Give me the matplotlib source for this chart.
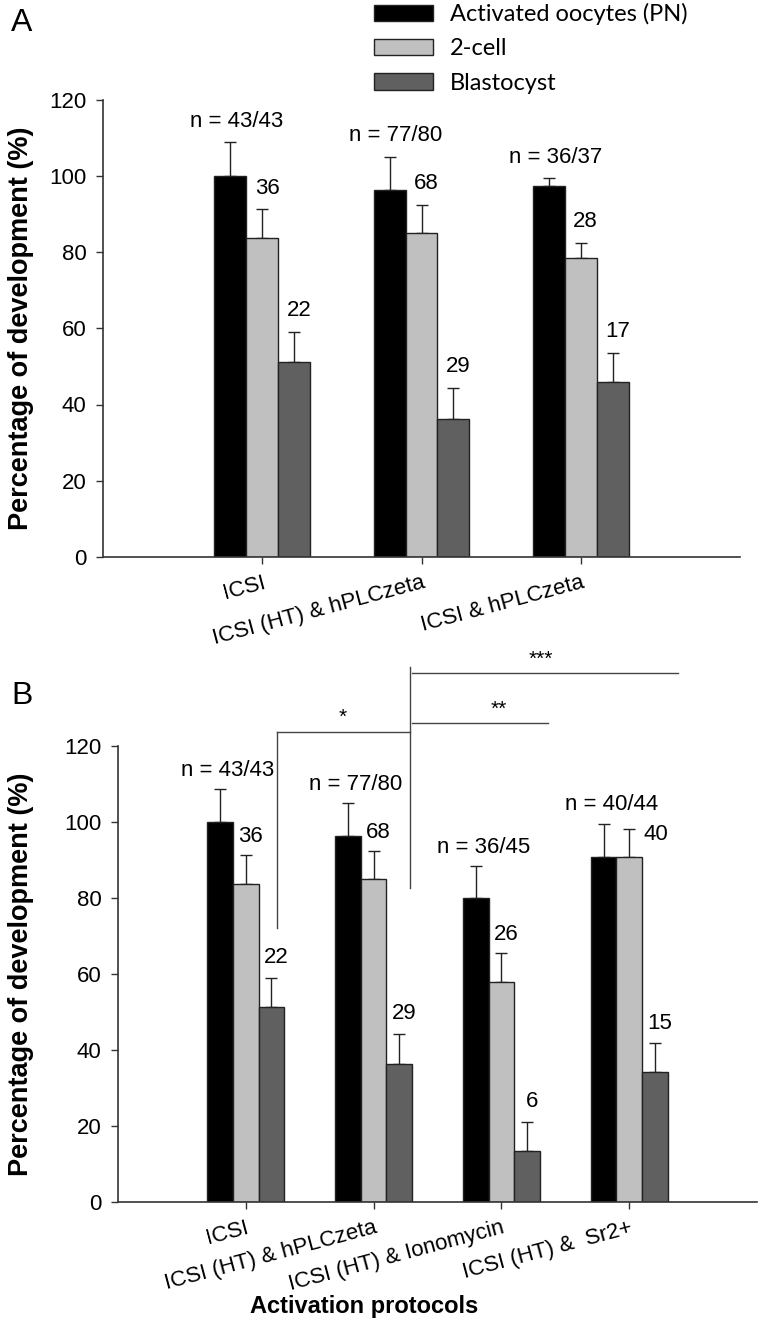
import numpy as np
import matplotlib
matplotlib.use("Agg")
import matplotlib.pyplot as plt
from matplotlib.patches import Patch

plt.rcParams['font.family'] = ['Liberation Sans', 'DejaVu Sans']

# ---- data ----
series_names = ["Activated oocytes (PN)", "2-cell", "Blastocyst"]
series_colors = ["#000000", "#c0c0c0", "#606060"]

# panel A
cats_a = ["ICSI", "ICSI (HT) & hPLCzeta", "ICSI & hPLCzeta"]
pn_a = [100.0, 96.3, 97.3]
two_cell_a = [83.7, 85.0, 78.4]
blast_a = [51.2, 36.3, 45.9]
pn_err_a = [8.8, 8.7, 2.0]
two_cell_err_a = [7.5, 7.4, 4.0]
blast_err_a = [7.8, 8.0, 7.7]
n_labels_a = ["n = 43/43", "n = 77/80", "n = 36/37"]
two_cell_n_a = ["36", "68", "28"]
blast_n_a = ["22", "29", "17"]

# panel B
cats_b = ["ICSI", "ICSI (HT) & hPLCzeta", "ICSI (HT) & Ionomycin", "ICSI (HT) &  Sr2+"]
pn_b = [100.0, 96.3, 80.0, 90.9]
two_cell_b = [83.7, 85.0, 57.8, 90.9]
blast_b = [51.2, 36.3, 13.3, 34.1]
pn_err_b = [8.7, 8.7, 8.4, 8.7]
two_cell_err_b = [7.5, 7.4, 7.6, 7.3]
blast_err_b = [7.8, 8.0, 7.8, 7.7]
n_labels_b = ["n = 43/43", "n = 77/80", "n = 36/45", "n = 40/44"]
two_cell_n_b = ["36", "68", "26", "40"]
blast_n_b = ["22", "29", "6", "15"]

W, H = 760, 1331
fig = plt.figure(figsize=(W / 100, H / 100), dpi=100)

LINE = "#333333"
BAR_W = 0.2
FS = 16


def draw_panel(ax, cats, values, errs):
    x = np.arange(len(cats))
    for k in range(3):
        xs = x + (k - 1) * BAR_W
        ax.bar(xs, values[k], width=BAR_W, color=series_colors[k],
               edgecolor="#222222", linewidth=1.0, zorder=2)
        ax.errorbar(xs, values[k], yerr=[np.zeros(len(cats)), errs[k]],
                    fmt="none", ecolor="#222222", elinewidth=1.0,
                    capsize=4.3, capthick=1.0, zorder=1)
    ax.set_xlim(-1, len(cats))
    ax.set_ylim(0, 120)
    ax.set_yticks(np.arange(0, 121, 20))
    ax.set_xticks(x)
    ax.set_xticklabels(cats, rotation=15, ha="right", rotation_mode="anchor")
    for s in ["top", "right"]:
        ax.spines[s].set_visible(False)
    for s in ["left", "bottom"]:
        ax.spines[s].set_color(LINE)
        ax.spines[s].set_linewidth(1.2)
    ax.tick_params(axis="y", length=5, width=1.0, color=LINE, labelsize=FS, pad=7)
    ax.tick_params(axis="x", length=5, width=1.0, color=LINE, labelsize=FS, pad=6)
    ax.set_ylabel("Percentage of development (%)", fontsize=19.5, fontweight="bold")
    return x


# ---- panel A ----
axA = fig.add_axes([103 / W, 1 - 557 / H, 637 / W, 457.5 / H])
xa = draw_panel(axA, cats_a, [pn_a, two_cell_a, blast_a],
                [pn_err_a, two_cell_err_a, blast_err_a])
axA.yaxis.set_label_coords(-0.108, 0.5)
for i in range(len(cats_a)):
    axA.text(xa[i] - BAR_W + 0.04, pn_a[i] + pn_err_a[i] + 2.8, n_labels_a[i],
             ha="center", va="bottom", fontsize=FS)
    axA.text(xa[i] + 0.03, two_cell_a[i] + two_cell_err_a[i] + 2.8, two_cell_n_a[i],
             ha="center", va="bottom", fontsize=FS)
    axA.text(xa[i] + BAR_W + 0.03, blast_a[i] + blast_err_a[i] + 2.8, blast_n_a[i],
             ha="center", va="bottom", fontsize=FS)

# ---- panel B ----
axB = fig.add_axes([118 / W, 1 - 1202 / H, 639 / W, 456 / H])
xb = draw_panel(axB, cats_b, [pn_b, two_cell_b, blast_b],
                [pn_err_b, two_cell_err_b, blast_err_b])
axB.yaxis.set_label_coords(-0.131, 0.5)
for i in range(len(cats_b)):
    axB.text(xb[i] - BAR_W + 0.06, pn_b[i] + pn_err_b[i] + 2.2, n_labels_b[i],
             ha="center", va="bottom", fontsize=FS)
    if i == 3:
        axB.text(xb[i] + BAR_W * 0.55, two_cell_b[i] + two_cell_err_b[i] - 1.5,
                 two_cell_n_b[i], ha="left", va="center", fontsize=FS)
    else:
        axB.text(xb[i] + 0.04, two_cell_b[i] + two_cell_err_b[i] + 2.2, two_cell_n_b[i],
                 ha="center", va="bottom", fontsize=FS)
    axB.text(xb[i] + BAR_W + 0.04, blast_b[i] + blast_err_b[i] + 2.5, blast_n_b[i],
             ha="center", va="bottom", fontsize=FS)

# significance brackets
sig = dict(color="#444444", lw=1.0, clip_on=False)
axB.plot([0.243, 0.243], [72.1, 123.7], **sig)
axB.plot([0.243, 1.284], [123.7, 123.7], **sig)
axB.plot([1.284, 1.284], [82.6, 140.8], **sig)
axB.plot([1.30, 2.365], [126.0, 126.0], **sig)
axB.plot([1.30, 3.383], [139.2, 139.2], **sig)
axB.text(0.76, 125.0, "*", ha="center", va="bottom", fontsize=15)
axB.text(1.98, 127.2, "**", ha="center", va="bottom", fontsize=15)
axB.text(2.31, 140.4, "***", ha="center", va="bottom", fontsize=15)

fig.text(364 / W, 1 - 1307 / H, "Activation protocols", ha="center", va="center",
         fontsize=17, fontweight="bold")

# panel letters
fig.text(22 / W, 1 - 23 / H, "A", ha="center", va="center", fontsize=23)
fig.text(22 / W, 1 - 696 / H, "B", ha="center", va="center", fontsize=23)

# legend
handles = [Patch(facecolor=c, edgecolor="#222222", linewidth=1.0) for c in series_colors]
fig.legend(handles, series_names, loc="upper left",
           bbox_to_anchor=(374 / W, 1 - 3 / H), frameon=False,
           borderpad=0, borderaxespad=0, handlelength=2.5, handleheight=0.7,
           handletextpad=0.7, labelspacing=0.56,
           prop={"family": ["Lato", "DejaVu Sans"], "size": 17})

fig.savefig("out.png", dpi=100)
